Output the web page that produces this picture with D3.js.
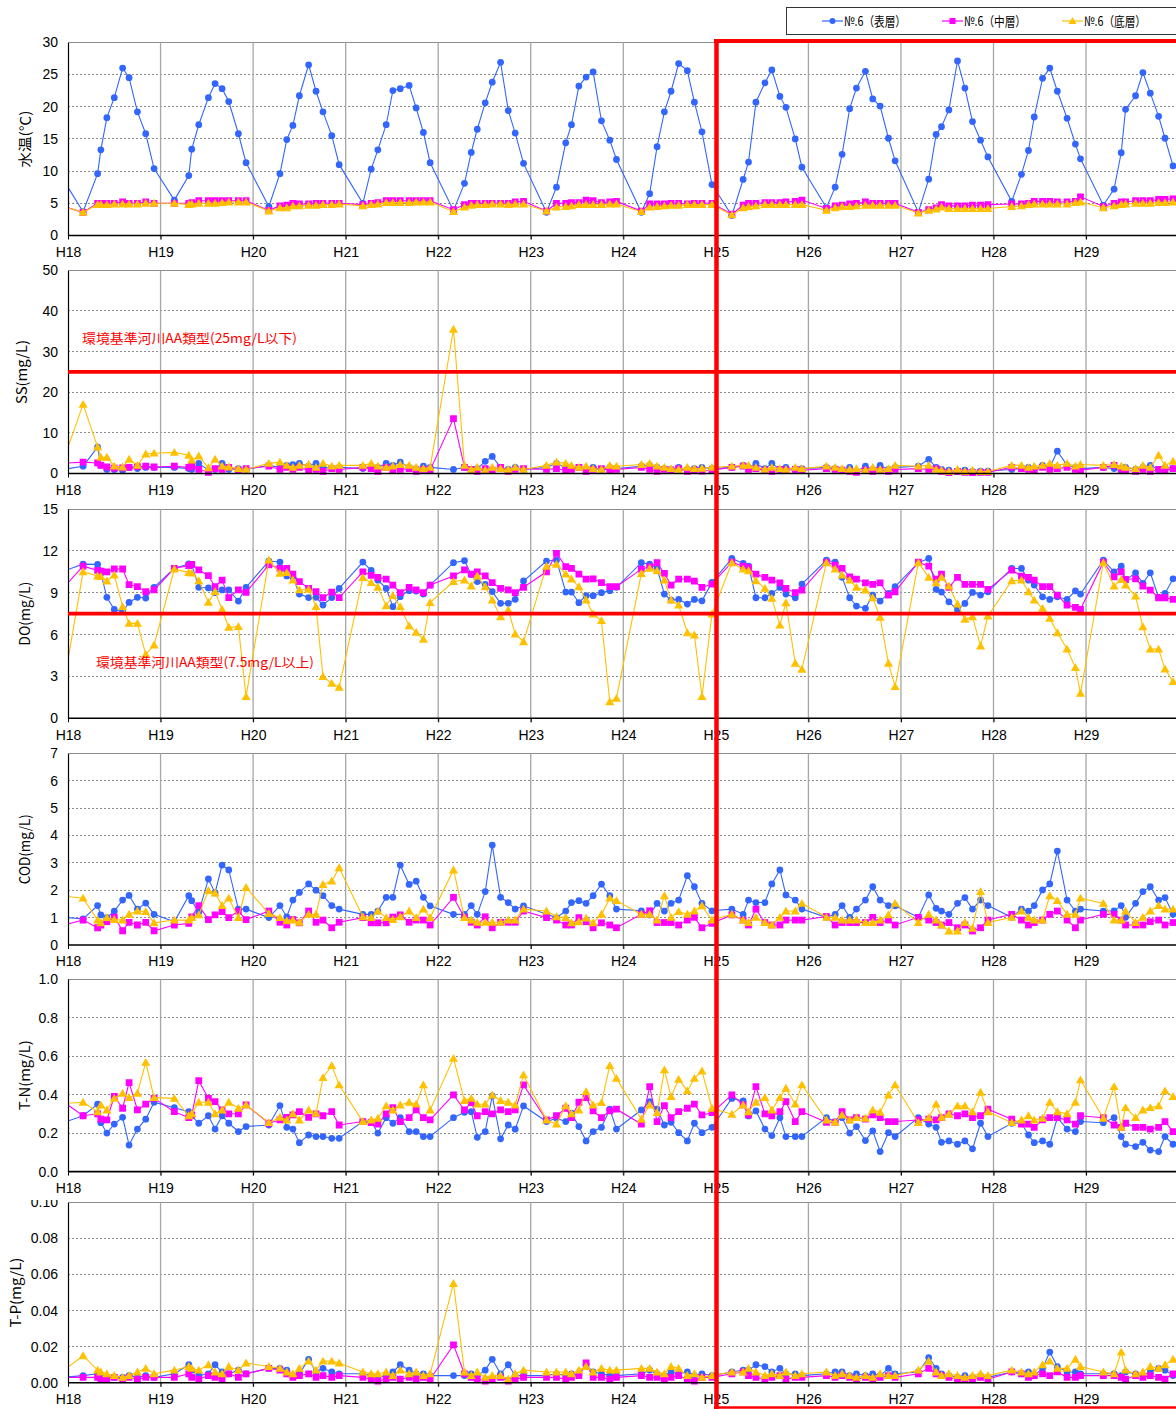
<!DOCTYPE html>
<html><head><meta charset="utf-8">
<script src="https://cdn.jsdelivr.net/npm/d3@7"></script>
<style>body{margin:0;background:#fff;} svg{display:block;}</style>
</head><body><svg id="c" width="1176" height="1409"></svg>
<script>
// ---------- DATA ----------
const yearLabels = ["H18","H19","H20","H21","H22","H23","H24","H25","H26","H27","H28","H29"];
// sampling times, in years after the H18 tick (first entry = last sample before H18)
const sampleTimes = [-0.07,
 0.163,0.32,0.355,0.42,0.50,0.59,0.66,0.75,0.84,0.93,
 1.149,1.305,1.337,1.413,1.517,1.589,1.665,1.737,1.841,1.924,
 2.17,2.29,2.364,2.43,2.50,2.60,2.68,2.755,2.85,2.93,
 3.186,3.276,3.348,3.438,3.51,3.59,3.686,3.762,3.84,3.913,
 4.165,4.284,4.357,4.422,4.508,4.584,4.674,4.757,4.832,4.922,
 5.17,5.278,5.378,5.44,5.52,5.598,5.674,5.764,5.854,5.926,
 6.195,6.285,6.365,6.444,6.516,6.598,6.692,6.768,6.85,6.958,
 7.173,7.295,7.353,7.433,7.53,7.605,7.692,7.757,7.858,7.93,
 8.195,8.289,8.364,8.446,8.519,8.616,8.695,8.775,8.865,8.937,
 9.188,9.30,9.38,9.438,9.518,9.611,9.691,9.773,9.86,9.94,
 10.197,10.302,10.378,10.44,10.53,10.608,10.69,10.795,10.885,10.94,
 11.187,11.303,11.38,11.427,11.535,11.614,11.694,11.784,11.853,11.94];

// 水温
const tempS = [9.1,
 3.7,9.6,13.3,18.3,21.4,26.0,24.5,19.2,15.8,10.4,
 5.5,9.3,13.4,17.2,21.4,23.6,22.8,20.8,15.8,11.3,
 4.5,9.6,14.9,17.1,21.7,26.5,22.4,19.2,15.5,11.0,
 5.0,10.3,13.3,17.2,22.5,22.8,23.3,19.8,16.0,11.3,
 3.9,8.1,12.9,16.5,20.6,23.8,26.9,19.4,15.9,11.2,
 3.6,7.5,14.4,17.2,23.2,24.6,25.4,17.8,14.8,11.8,
 3.6,6.5,13.8,19.2,22.4,26.7,25.6,20.7,16.1,7.9,
 3.1,8.7,11.4,20.7,23.7,25.7,21.6,19.9,15.0,10.6,
 4.3,7.5,12.6,19.7,22.9,25.5,21.2,20.1,15.1,11.6,
 3.6,8.75,15.7,16.9,19.5,27.1,22.9,17.7,14.8,12.2,
 5.3,9.5,13.2,18.4,24.4,26.0,22.4,18.2,14.2,11.9,
 4.7,7.2,12.85,19.6,21.7,25.3,22.1,18.5,15.1,10.8];
const tempM = [4.6,
 3.6,5.0,5.0,5.0,5.0,5.2,5.0,5.0,5.2,5.0,
 5.0,5.0,5.1,5.4,5.4,5.4,5.4,5.4,5.4,5.4,
 3.9,4.6,4.7,5.0,4.9,4.9,5.0,5.0,5.0,5.0,
 4.8,5.0,5.1,5.4,5.4,5.4,5.4,5.4,5.4,5.4,
 4.0,4.8,5.0,5.0,5.0,5.0,5.0,5.0,5.2,5.3,
 3.8,5.0,5.0,5.1,5.1,5.5,5.4,5.1,5.2,5.3,
 3.8,4.9,4.9,4.9,5.0,5.0,4.9,5.0,5.0,5.0,
 3.3,4.7,5.0,5.0,5.1,5.1,5.1,5.2,5.3,5.5,
 4.2,4.6,4.7,4.9,5.0,5.2,5.0,5.0,5.0,5.0,
 3.6,4.0,4.3,4.8,4.6,4.6,4.6,4.7,4.7,4.8,
 4.9,4.9,5.0,5.3,5.3,5.3,5.2,5.2,5.3,6.0,
 4.5,5.0,5.2,5.2,5.4,5.4,5.4,5.6,5.6,5.7];
const tempB = [4.6,
 3.6,4.8,4.8,4.8,4.9,4.9,4.9,4.9,5.0,5.0,
 5.0,4.8,4.9,5.0,5.0,5.0,5.1,5.2,5.2,5.2,
 3.8,4.3,4.3,4.6,4.6,4.7,4.7,4.8,4.8,4.9,
 4.6,4.8,4.9,5.1,5.1,5.1,5.1,5.2,5.2,5.2,
 3.7,4.4,4.7,4.8,4.8,4.9,4.9,4.8,4.9,4.9,
 3.8,4.4,4.5,4.6,4.8,4.8,4.8,4.8,4.9,4.9,
 3.7,4.4,4.5,4.6,4.7,4.7,4.8,4.8,4.8,4.8,
 3.2,4.3,4.5,4.6,4.8,4.8,4.8,4.8,4.8,4.8,
 3.9,4.3,4.5,4.5,4.6,4.7,4.7,4.7,4.7,4.7,
 3.5,3.9,4.1,4.4,4.2,4.2,4.2,4.2,4.2,4.2,
 4.5,4.6,4.8,4.9,4.9,4.9,4.9,4.9,5.1,5.2,
 4.3,4.6,4.8,4.9,5.0,5.0,5.0,5.1,5.1,5.2];

// SS
const ssS = [0.94,
 1.8,6.5,2.0,1.0,1.0,0.8,1.5,1.2,1.5,1.5,
 1.5,1.2,1.0,2.5,0.8,1.0,2.5,1.0,1.2,1.0,
 2.0,1.5,2.0,2.2,2.5,1.8,2.5,1.5,1.2,1.5,
 1.2,1.5,1.5,2.5,2.0,2.8,1.5,1.2,1.8,1.5,
 1.0,1.5,0.8,1.2,3.0,4.2,1.5,1.0,1.5,1.0,
 1.5,2.5,1.5,1.2,1.5,1.0,1.5,1.0,1.5,1.2,
 1.8,2.0,1.5,1.2,1.0,1.5,1.0,1.2,1.5,1.2,
 1.5,2.0,1.5,2.5,1.2,2.5,1.0,1.5,1.0,1.2,
 1.5,1.2,0.8,1.5,0.5,1.8,1.0,2.0,1.0,1.5,
 1.8,3.5,1.5,1.0,0.8,0.5,0.8,0.5,0.6,0.6,
 1.0,1.2,1.5,1.0,2.0,1.5,5.5,2.0,1.5,1.2,
 1.5,1.2,0.8,1.5,1.0,1.5,2.0,1.0,1.5,1.2];
const ssM = [2.5,
 2.8,2.6,2.0,1.6,1.3,1.4,1.5,1.7,1.8,1.6,
 1.8,1.5,1.8,1.0,0.3,1.2,1.0,1.5,0.8,1.2,
 1.8,1.0,1.5,1.0,1.5,0.8,1.0,0.5,1.2,1.0,
 1.5,1.2,0.5,1.5,0.8,1.0,1.2,0.5,1.0,0.8,
 13.5,1.5,1.0,0.5,1.2,0.8,1.5,0.5,1.0,1.2,
 1.0,1.2,0.8,1.0,1.5,0.5,1.0,1.2,0.8,1.0,
 1.5,1.0,0.5,1.0,0.8,1.2,0.5,0.8,0.6,0.8,
 1.5,1.8,1.0,1.2,0.8,0.5,1.0,0.8,1.0,0.8,
 1.2,1.0,0.8,0.5,0.3,0.8,0.5,0.8,0.5,1.0,
 1.2,1.0,1.2,0.5,0.2,0.5,0.3,0.2,0.3,0.3,
 1.5,1.2,1.0,0.8,1.5,1.0,1.2,1.5,1.0,0.8,
 1.5,2.0,1.0,0.8,0.5,1.0,0.5,1.0,0.8,1.2];
const ssB = [2.0,
 17.0,6.5,4.0,4.0,1.8,1.6,3.5,2.0,4.8,5.0,
 5.2,4.5,3.3,4.3,1.4,3.5,1.8,1.6,1.2,1.0,
 2.5,2.8,2.0,1.5,2.0,2.2,1.5,2.5,1.8,2.0,
 2.0,2.5,1.8,1.5,1.8,2.2,2.0,1.5,1.2,1.5,
 35.5,2.0,1.0,1.5,0.8,1.5,1.2,1.0,1.5,1.0,
 2.0,2.8,2.5,2.0,1.5,1.8,1.2,1.0,2.0,1.8,
 2.2,2.5,1.8,1.5,1.2,1.0,1.5,1.2,1.3,1.5,
 1.8,2.0,2.0,1.5,1.0,1.5,1.2,1.0,1.5,1.2,
 1.8,1.5,1.2,1.0,1.2,0.8,1.5,1.0,1.2,2.0,
 1.8,2.0,1.0,0.8,0.5,1.0,0.5,0.8,0.5,0.5,
 2.0,2.0,1.5,1.8,2.0,2.5,2.0,2.5,1.8,2.2,
 2.0,2.2,1.8,1.5,1.2,2.0,1.5,4.5,2.0,3.0];

// DO
const doS = [10.5,
 11.05,11.03,10.4,8.67,7.8,7.64,8.3,8.67,8.62,9.39,
 10.75,11.06,11.0,9.39,9.34,9.0,9.2,9.2,8.4,9.39,
 11.27,11.2,10.2,10.1,8.9,8.65,8.67,8.12,8.65,9.31,
 11.2,10.6,9.9,9.31,8.0,8.72,9.15,9.12,8.9,9.55,
 11.15,11.3,10.3,9.8,9.6,9.08,8.24,8.24,8.53,9.84,
 11.27,11.34,9.05,9.05,8.29,8.79,8.79,9.0,9.15,9.39,
 11.15,11.05,10.74,8.9,8.47,8.52,8.19,8.52,8.42,9.74,
 11.46,11.1,10.9,8.64,8.64,8.95,9.38,8.9,8.64,9.62,
 11.34,11.19,10.1,8.64,8.04,7.88,8.83,8.4,8.95,9.43,
 11.15,11.46,9.24,9.05,8.35,7.76,8.23,9.02,8.83,9.07,
 10.74,10.74,9.9,9.55,8.71,8.52,8.71,8.52,9.14,8.9,
 11.34,10.5,10.9,9.9,10.43,9.67,10.43,8.67,8.95,10.0];
const doM = [9.2,
 10.9,10.6,10.55,10.5,10.7,10.7,9.58,9.43,9.07,9.2,
 10.75,10.94,11.03,10.63,10.22,9.43,9.9,8.65,9.2,9.03,
 10.99,10.75,10.75,10.34,9.8,9.31,9.08,8.65,9.05,8.65,
 10.5,10.25,10.1,9.98,9.55,9.0,9.39,9.2,9.0,9.55,
 10.2,10.63,10.34,10.5,10.2,9.72,9.31,9.2,9.0,9.39,
 10.5,11.82,10.87,10.75,10.34,9.98,10.0,9.72,9.43,9.43,
 10.69,10.86,11.15,10.38,9.55,9.98,9.98,9.83,9.38,9.62,
 11.19,10.9,10.79,10.33,10.1,9.9,9.71,9.31,9.0,9.19,
 11.19,10.98,10.74,10.14,9.98,9.71,9.6,9.71,8.83,9.07,
 11.19,10.9,9.98,10.33,9.38,10.1,9.6,9.6,9.6,9.24,
 10.62,10.19,10.1,9.9,9.43,9.43,8.83,8.11,7.95,7.81,
 11.19,10.14,10.5,9.95,10.0,9.47,9.19,8.64,8.64,8.52];
const doB = [1.5,
 10.5,10.2,10.15,9.84,10.27,8.0,6.8,6.8,4.58,5.25,
 10.7,10.44,10.4,9.86,8.31,9.08,7.8,6.52,6.57,1.55,
 11.34,10.39,10.44,9.91,9.2,9.24,8.0,2.99,2.5,2.22,
 10.08,9.72,9.39,8.07,8.79,8.0,6.62,6.16,5.66,8.29,
 9.8,9.91,9.48,10.2,9.43,8.48,7.28,7.76,6.04,5.49,
 10.9,11.03,10.34,9.98,9.43,8.48,7.47,7.0,1.19,1.43,
 10.38,10.74,10.57,9.9,8.47,8.11,6.13,5.97,1.55,7.47,
 11.15,10.69,10.57,9.86,9.31,8.59,6.68,8.28,3.94,3.51,
 11.15,10.69,10.26,9.9,9.38,9.19,8.64,7.23,3.94,2.27,
 11.15,10.1,9.71,10.1,9.47,8.19,7.09,7.28,5.18,7.33,
 9.86,9.9,9.07,8.47,7.88,7.16,6.13,4.96,3.63,1.79,
 11.15,9.47,9.95,9.55,8.76,6.56,4.96,4.96,3.53,2.63];

// COD
const codS = [1.02,
 0.95,1.44,1.1,1.0,1.24,1.64,1.81,1.31,1.53,1.12,
 0.85,1.8,1.62,1.2,2.41,1.9,2.92,2.74,1.31,1.31,
 1.0,1.44,1.03,1.64,1.92,2.23,2.0,1.8,1.44,1.31,
 1.12,1.12,1.24,1.74,1.74,2.92,2.21,2.33,1.74,1.43,
 1.12,1.12,1.44,1.12,1.95,3.65,1.74,1.55,1.31,1.43,
 1.12,1.0,1.24,1.55,1.62,1.52,1.8,2.22,1.8,1.31,
 1.25,1.1,1.52,1.24,1.52,1.64,2.53,2.13,1.52,1.25,
 1.31,1.12,1.64,1.55,1.55,2.23,2.74,1.83,1.64,1.31,
 1.01,1.12,1.44,1.01,1.31,1.64,2.13,1.64,1.44,1.43,
 1.01,1.83,1.34,1.24,1.12,1.52,1.73,1.31,1.64,1.44,
 1.01,1.31,1.24,1.44,2.01,2.23,3.43,1.64,1.24,1.31,
 1.24,1.25,1.44,1.01,1.52,1.95,2.13,1.64,1.73,1.12];
const codM = [0.71,
 0.91,0.63,0.73,0.85,1.02,0.52,0.83,0.73,0.83,0.52,
 0.73,0.79,1.03,1.44,0.93,1.1,1.22,1.0,1.24,0.93,
 1.24,0.83,0.73,0.93,0.81,1.24,0.83,0.91,0.63,0.83,
 1.0,0.81,0.81,0.81,1.02,1.1,0.83,0.91,0.91,0.73,
 1.74,1.0,0.83,0.73,1.03,0.63,0.83,0.83,0.83,1.24,
 1.0,0.91,0.73,0.73,1.0,0.85,0.63,0.81,0.73,0.63,
 1.12,1.25,0.82,0.82,0.82,0.73,0.91,1.01,0.63,0.79,
 1.1,0.91,0.73,1.31,0.82,0.73,0.73,0.91,0.91,0.91,
 1.04,0.73,0.82,0.82,0.82,0.82,1.01,0.82,0.91,0.73,
 1.01,0.91,0.82,0.73,0.82,0.63,0.73,0.51,0.63,0.91,
 1.12,0.91,0.73,0.82,0.91,1.12,1.24,0.91,0.63,0.91,
 1.12,1.12,0.91,0.73,0.73,0.73,0.85,0.91,0.73,0.82];
const codB = [1.8,
 1.71,0.91,0.81,1.0,0.93,0.91,1.12,1.24,1.22,0.81,
 0.91,0.91,1.0,1.1,1.99,1.9,1.44,1.71,1.0,2.1,
 1.15,1.0,0.88,0.91,0.83,1.12,1.12,2.21,2.33,2.82,
 1.03,1.0,1.24,1.0,0.93,1.03,1.24,1.0,1.31,1.0,
 2.74,1.0,0.91,0.83,0.83,0.83,0.83,0.91,0.91,1.31,
 1.24,1.03,1.0,0.81,0.85,0.98,0.81,1.12,1.71,1.62,
 1.12,1.12,0.91,1.8,1.01,1.22,1.12,1.24,1.43,0.91,
 1.12,0.91,0.82,1.01,0.82,0.73,1.01,1.24,1.24,1.52,
 1.01,1.01,0.91,0.91,0.91,0.82,0.82,0.91,1.1,1.52,
 0.82,1.12,0.91,0.73,0.51,0.51,0.82,0.61,1.95,0.82,
 1.01,1.24,1.01,0.91,0.91,1.8,1.62,1.12,1.12,1.71,
 1.52,0.91,0.91,1.24,0.82,1.01,1.24,1.44,1.31,1.31];

// T-N
const tnS = [0.251,
 0.29,0.35,0.254,0.2,0.247,0.282,0.138,0.221,0.272,0.36,
 0.332,0.311,0.289,0.251,0.29,0.221,0.29,0.251,0.208,0.234,
 0.242,0.343,0.23,0.221,0.15,0.19,0.182,0.182,0.173,0.173,
 0.26,0.26,0.2,0.28,0.251,0.28,0.208,0.208,0.182,0.182,
 0.28,0.308,0.311,0.178,0.208,0.393,0.17,0.242,0.22,0.341,
 0.26,0.277,0.26,0.303,0.234,0.159,0.208,0.23,0.324,0.221,
 0.32,0.363,0.324,0.242,0.256,0.202,0.159,0.251,0.202,0.23,
 0.38,0.367,0.289,0.315,0.221,0.187,0.28,0.182,0.182,0.182,
 0.28,0.26,0.28,0.2,0.234,0.161,0.211,0.104,0.202,0.182,
 0.28,0.247,0.23,0.152,0.159,0.142,0.159,0.118,0.251,0.182,
 0.251,0.251,0.19,0.15,0.159,0.142,0.28,0.221,0.208,0.26,
 0.254,0.28,0.182,0.142,0.13,0.152,0.112,0.104,0.182,0.142];
const tnM = [0.37,
 0.29,0.3,0.273,0.268,0.39,0.329,0.462,0.32,0.35,0.38,
 0.311,0.28,0.294,0.472,0.38,0.363,0.32,0.3,0.3,0.346,
 0.251,0.268,0.282,0.294,0.311,0.282,0.3,0.29,0.311,0.242,
 0.26,0.254,0.247,0.3,0.332,0.26,0.28,0.32,0.28,0.268,
 0.398,0.32,0.358,0.29,0.311,0.3,0.32,0.311,0.32,0.45,
 0.268,0.29,0.329,0.28,0.36,0.384,0.315,0.28,0.315,0.324,
 0.247,0.441,0.26,0.343,0.28,0.311,0.329,0.35,0.294,0.306,
 0.398,0.346,0.294,0.441,0.3,0.29,0.311,0.363,0.26,0.311,
 0.256,0.256,0.311,0.268,0.28,0.272,0.294,0.28,0.26,0.26,
 0.268,0.272,0.268,0.28,0.3,0.29,0.3,0.28,0.29,0.324,
 0.272,0.247,0.247,0.23,0.268,0.28,0.28,0.268,0.247,0.29,
 0.28,0.242,0.23,0.251,0.23,0.23,0.221,0.23,0.26,0.208];
const tnB = [0.353,
 0.36,0.311,0.346,0.32,0.38,0.407,0.384,0.407,0.567,0.384,
 0.38,0.29,0.3,0.36,0.36,0.3,0.32,0.36,0.329,0.346,
 0.254,0.282,0.268,0.3,0.268,0.32,0.303,0.488,0.55,0.45,
 0.26,0.268,0.277,0.341,0.32,0.346,0.36,0.35,0.45,0.32,
 0.588,0.369,0.38,0.35,0.35,0.398,0.369,0.36,0.346,0.502,
 0.268,0.247,0.341,0.3,0.32,0.415,0.346,0.358,0.55,0.484,
 0.272,0.346,0.306,0.528,0.389,0.479,0.419,0.484,0.522,0.329,
 0.298,0.346,0.311,0.36,0.384,0.32,0.384,0.433,0.35,0.45,
 0.268,0.256,0.294,0.268,0.28,0.277,0.32,0.308,0.398,0.45,
 0.254,0.28,0.35,0.282,0.298,0.341,0.341,0.311,0.412,0.311,
 0.254,0.268,0.29,0.268,0.277,0.36,0.311,0.3,0.36,0.476,
 0.277,0.441,0.23,0.332,0.28,0.32,0.332,0.341,0.419,0.389];

// T-P
const tpS = [0.003,
 0.004,0.005,0.004,0.003,0.003,0.003,0.004,0.003,0.004,0.003,
 0.005,0.010,0.007,0.004,0.005,0.010,0.006,0.005,0.007,0.005,
 0.008,0.008,0.007,0.004,0.005,0.013,0.006,0.008,0.006,0.005,
 0.005,0.004,0.003,0.004,0.006,0.010,0.007,0.005,0.005,0.004,
 0.004,0.004,0.005,0.004,0.007,0.013,0.005,0.010,0.004,0.004,
 0.004,0.005,0.004,0.005,0.004,0.010,0.006,0.005,0.004,0.004,
 0.005,0.007,0.005,0.004,0.006,0.005,0.006,0.004,0.005,0.004,
 0.006,0.007,0.007,0.010,0.009,0.006,0.008,0.005,0.005,0.004,
 0.005,0.006,0.006,0.004,0.005,0.004,0.005,0.004,0.008,0.005,
 0.006,0.014,0.008,0.005,0.004,0.003,0.004,0.003,0.004,0.003,
 0.006,0.005,0.006,0.004,0.008,0.017,0.009,0.006,0.006,0.005,
 0.005,0.005,0.004,0.006,0.005,0.004,0.006,0.008,0.007,0.004];
const tpM = [0.003,
 0.003,0.003,0.002,0.002,0.003,0.002,0.003,0.002,0.003,0.003,
 0.003,0.005,0.003,0.002,0.004,0.003,0.002,0.005,0.003,0.005,
 0.008,0.007,0.005,0.003,0.004,0.005,0.003,0.004,0.003,0.004,
 0.003,0.002,0.001,0.002,0.003,0.002,0.003,0.002,0.003,0.002,
 0.021,0.005,0.003,0.002,0.001,0.002,0.003,0.001,0.002,0.003,
 0.003,0.003,0.002,0.003,0.004,0.011,0.003,0.003,0.002,0.003,
 0.004,0.003,0.003,0.002,0.003,0.004,0.002,0.001,0.003,0.003,
 0.005,0.006,0.004,0.003,0.002,0.003,0.004,0.002,0.003,0.003,
 0.004,0.003,0.004,0.003,0.002,0.003,0.002,0.003,0.004,0.003,
 0.005,0.008,0.005,0.004,0.003,0.002,0.002,0.002,0.003,0.002,
 0.006,0.005,0.003,0.004,0.005,0.004,0.006,0.003,0.003,0.004,
 0.004,0.004,0.003,0.002,0.004,0.003,0.004,0.003,0.002,0.005];
const tpB = [0.006,
 0.015,0.007,0.006,0.005,0.004,0.003,0.004,0.006,0.008,0.005,
 0.007,0.009,0.008,0.007,0.010,0.006,0.005,0.009,0.007,0.011,
 0.009,0.008,0.006,0.005,0.008,0.012,0.007,0.012,0.012,0.011,
 0.006,0.005,0.005,0.006,0.004,0.007,0.005,0.006,0.004,0.005,
 0.055,0.006,0.004,0.006,0.003,0.004,0.004,0.002,0.005,0.007,
 0.006,0.006,0.006,0.005,0.007,0.009,0.006,0.008,0.007,0.007,
 0.008,0.008,0.006,0.005,0.009,0.008,0.004,0.005,0.003,0.004,
 0.006,0.006,0.008,0.006,0.004,0.005,0.004,0.006,0.004,0.005,
 0.006,0.004,0.005,0.004,0.003,0.004,0.003,0.005,0.004,0.004,
 0.007,0.012,0.006,0.004,0.005,0.004,0.003,0.004,0.005,0.004,
 0.007,0.006,0.005,0.006,0.010,0.012,0.008,0.008,0.013,0.009,
 0.006,0.005,0.017,0.007,0.005,0.006,0.009,0.008,0.010,0.013];

const layerNames = ["№.6（表層）","№.6（中層）","№.6（底層）"];
const ssStandard = 25, ssStandardLabel = "環境基準河川AA類型(25mg/L以下)";
const doStandard = 7.5, doStandardLabel = "環境基準河川AA類型(7.5mg/L以上)";

// ---------- STYLE / LAYOUT ----------
const colors = ["#3366ff","#ff00ff","#ffc000"];
const symbols = [d3.symbolCircle, d3.symbolSquare, d3.symbolTriangle];
const symSizes = [36, 46, 36];
const W = 1176, X0 = 68, pxPerYear = 92.55;
const NUM_FONT = "'Liberation Sans', Arial, sans-serif";
const JP_FONT = "'Noto Sans CJK JP', 'Noto Sans', sans-serif";

const panels = [
 {title:"水温(℃)", titleX:25, titleLen:57, top:42.3, bottom:235.5, max:30, ticks:[0,5,10,15,20,25,30], fmt:d3.format("d"), series:[tempS,tempM,tempB], labelY:257},
 {title:"SS(mg/L)", titleX:22, titleLen:64, top:270.3, bottom:473.5, max:50, ticks:[0,10,20,30,40,50], fmt:d3.format("d"), series:[ssS,ssM,ssB], labelY:495, std:ssStandard, stdLabel:ssStandardLabel, stdX:82, stdY:343, stdLen:215},
 {title:"DO(mg/L)", titleX:25, titleLen:64, top:509, bottom:718.3, max:15, ticks:[0,3,6,9,12,15], fmt:d3.format("d"), series:[doS,doM,doB], labelY:740, std:doStandard, stdLabel:doStandardLabel, stdX:96, stdY:667, stdLen:218},
 {title:"COD(mg/L)", titleX:25, titleLen:70, top:753.3, bottom:945, max:7, ticks:[0,1,2,3,4,5,6,7], fmt:d3.format("d"), series:[codS,codM,codB], labelY:966},
 {title:"T-N(mg/L)", titleX:25, titleLen:70, top:979, bottom:1171.6, max:1, ticks:[0,0.2,0.4,0.6,0.8,1.0], fmt:d3.format(".1f"), series:[tnS,tnM,tnB], labelY:1193},
 {title:"T-P(mg/L)", titleX:16, titleLen:70, top:1202.3, bottom:1382.8, max:0.1, ticks:[0,0.02,0.04,0.06,0.08,0.10], fmt:d3.format(".2f"), series:[tpS,tpM,tpB], labelY:1404, clipTop:1200}
];

const svg = d3.select("#c");
const x = d3.scaleLinear().domain([0, yearLabels.length]).range([X0, X0 + pxPerYear*yearLabels.length]);
const defs = svg.append("defs");

panels.forEach((p, pi) => {
  const y = d3.scaleLinear().domain([0, p.max]).range([p.bottom, p.top]);
  const gTop = p.clipTop || 0;
  const pc = defs.append("clipPath").attr("id","pclip"+pi);
  pc.append("rect").attr("x",0).attr("y",gTop).attr("width",W).attr("height",1409-gTop);
  const g = svg.append("g").attr("clip-path","url(#pclip"+pi+")");

  // horizontal dotted gridlines
  g.selectAll("line.hg").data(p.ticks.filter(t => t > 0)).join("line")
    .attr("x1", X0).attr("x2", W).attr("y1", d => y(d)).attr("y2", d => y(d))
    .attr("stroke", "#8c8c8c")
    .attr("stroke-dasharray", d => d === p.max ? null : "2,2")
    .attr("stroke-width", 1).attr("shape-rendering","crispEdges");
  // vertical year gridlines (+ small ticks below axis)
  g.selectAll("line.vg").data(d3.range(1, yearLabels.length+1)).join("line")
    .attr("x1", d => x(d)).attr("x2", d => x(d))
    .attr("y1", p.top).attr("y2", p.bottom + 4)
    .attr("stroke", "#a6a6a6").attr("stroke-width", 1.3);

  // series
  const clipId = "sclip"+pi;
  defs.append("clipPath").attr("id", clipId).append("rect")
    .attr("x", X0+0.5).attr("y", Math.max(p.top-10, gTop)).attr("width", W - X0).attr("height", p.bottom - p.top + 14);
  const sg = g.append("g").attr("clip-path", "url(#"+clipId+")");
  p.series.forEach((vals, li) => {
    const pts = sampleTimes.map((t, i) => [t, vals[i]]);
    const line = d3.line().x(d => x(d[0])).y(d => y(d[1]));
    sg.append("path").attr("d", line(pts)).attr("fill","none")
      .attr("stroke", colors[li]).attr("stroke-width", 1.1);
    const sym = d3.symbol().type(symbols[li]).size(symSizes[li]);
    sg.selectAll("path.m"+li).data(pts.slice(1)).join("path")
      .attr("d", sym).attr("transform", d => `translate(${x(d[0])},${y(d[1]) + (li===2?0.8:0)})`)
      .attr("fill", colors[li]);
  });

  // axes
  const yAxis = d3.axisLeft(y).tickValues(p.ticks).tickFormat(p.fmt).tickSize(0).tickPadding(10);
  const ya = g.append("g").attr("transform", `translate(${X0},0)`).call(yAxis);
  ya.select(".domain").attr("stroke","#000").attr("stroke-width",1.2);
  ya.selectAll("text").attr("font-family", NUM_FONT).attr("font-size", 14).attr("fill","#000");

  const xAxis = d3.axisBottom(x).tickValues(d3.range(0, yearLabels.length)).tickFormat(i => yearLabels[i]).tickSize(4).tickPadding(8);
  const xa = g.append("g").attr("transform", `translate(0,${p.bottom})`).call(xAxis);
  xa.select(".domain").attr("stroke","#000").attr("stroke-width",1.6).attr("d", `M${X0},0H${W}`);
  xa.selectAll(".tick line").attr("stroke","#000");
  xa.selectAll("text").attr("font-family", NUM_FONT).attr("font-size", 14).attr("fill","#000")
    .attr("dy", null).attr("y", p.labelY - p.bottom);

  // y title
  const cy = (p.top + p.bottom)/2;
  g.append("text").attr("transform", `translate(${p.titleX},${cy}) rotate(-90)`)
    .attr("text-anchor","middle").attr("dy","0.35em")
    .attr("font-family", JP_FONT).attr("font-size", 14)
    .attr("textLength", p.titleLen).attr("lengthAdjust","spacingAndGlyphs")
    .text(p.title);

  // standards
  if (p.std !== undefined) {
    svg.append("line").attr("x1", X0).attr("x2", W).attr("y1", y(p.std)).attr("y2", y(p.std))
      .attr("stroke","#ff0000").attr("stroke-width", 3.8);
    svg.append("text").attr("x", p.stdX).attr("y", p.stdY)
      .attr("font-family", JP_FONT).attr("font-size", 13).attr("fill","#ff0000")
      .attr("textLength", p.stdLen).attr("lengthAdjust","spacingAndGlyphs")
      .text(p.stdLabel);
  }
});

// red frame for H25 onwards
svg.append("line").attr("x1",716.5).attr("x2",716.5).attr("y1",39).attr("y2",1409).attr("stroke","#ff0000").attr("stroke-width",4.5);
svg.append("line").attr("x1",714).attr("x2",W).attr("y1",41).attr("y2",41).attr("stroke","#ff0000").attr("stroke-width",4);
svg.append("line").attr("x1",714).attr("x2",W).attr("y1",1407.5).attr("y2",1407.5).attr("stroke","#ff0000").attr("stroke-width",2.5);

// legend
const lg = svg.append("g");
lg.append("rect").attr("x",786.5).attr("y",7.5).attr("width",W).attr("height",27)
  .attr("fill","#fff").attr("stroke","#333").attr("stroke-width",1);
const legX = [822, 942, 1062];
layerNames.forEach((n, i) => {
  const gx = legX[i];
  lg.append("line").attr("x1", gx).attr("x2", gx+21).attr("y1", 21).attr("y2", 21)
    .attr("stroke", colors[i]).attr("stroke-width", 1.2);
  lg.append("path").attr("d", d3.symbol().type(symbols[i]).size(symSizes[i]*0.8)())
    .attr("transform", `translate(${gx+10.5},${21 + (i===2?0.6:0)})`).attr("fill", colors[i]);
  lg.append("text").attr("x", gx+22).attr("y", 26)
    .attr("font-family", JP_FONT).attr("font-size", 13).attr("fill","#000")
    .attr("textLength", 62).attr("lengthAdjust","spacingAndGlyphs")
    .text(n);
});
</script></body></html>
